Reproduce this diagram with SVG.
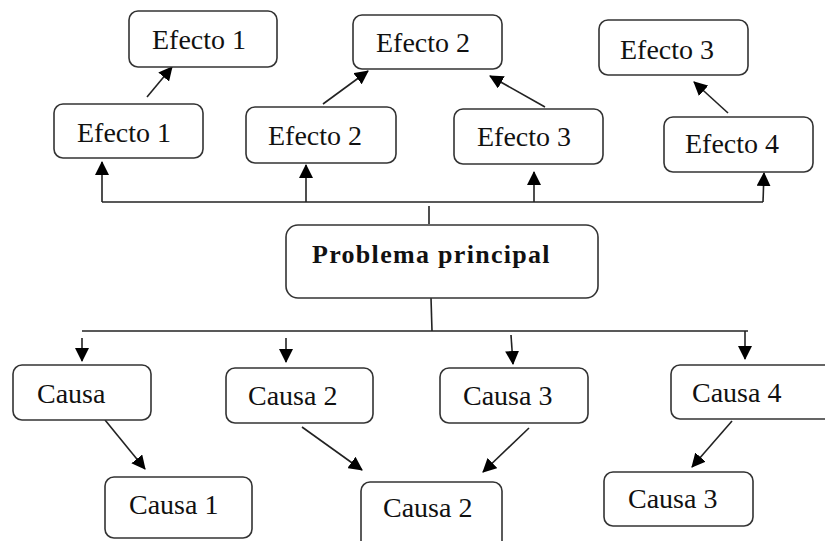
<svg xmlns="http://www.w3.org/2000/svg" width="825" height="541" viewBox="0 0 825 541">
<style>
.box{fill:#fff;stroke:#333;stroke-width:1.6}
.t{font-family:"Liberation Serif","Times New Roman",serif;font-size:28px;fill:#111}
.tb{font-family:"Liberation Serif","Times New Roman",serif;font-size:26px;font-weight:bold;letter-spacing:1.3px;fill:#111}
.c{fill:none;stroke:#222;stroke-width:1.6}
</style>
<defs>
<marker id="ah" markerUnits="userSpaceOnUse" markerWidth="14" markerHeight="14" viewBox="0 0 14 14" refX="13" refY="7" orient="auto">
<path d="M0,0 L14,7 L0,14 z" fill="#000"/>
</marker>
</defs>
<rect width="825" height="541" fill="#fff"/>
<g id="connectors">
<path class="c" d="M102,202 H763"/>
<path class="c" d="M102,202 V162" marker-end="url(#ah)"/>
<path class="c" d="M306,202 V165" marker-end="url(#ah)"/>
<path class="c" d="M534,202 V172" marker-end="url(#ah)"/>
<path class="c" d="M763,202 L764,173" marker-end="url(#ah)"/>
<path class="c" d="M429,206 V224"/>
<path class="c" d="M147,97 L172,67" marker-end="url(#ah)"/>
<path class="c" d="M323,104 L368,71" marker-end="url(#ah)"/>
<path class="c" d="M545,107 L490,76" marker-end="url(#ah)"/>
<path class="c" d="M728,113 L694,82" marker-end="url(#ah)"/>
<path class="c" d="M431,298 L432,331"/>
<path class="c" d="M82,331 H748"/>
<path class="c" d="M82,338 V361" marker-end="url(#ah)"/>
<path class="c" d="M286,338 V362" marker-end="url(#ah)"/>
<path class="c" d="M511,335 L513,364" marker-end="url(#ah)"/>
<path class="c" d="M745,331 V359" marker-end="url(#ah)"/>
<path class="c" d="M105,420 L145,469" marker-end="url(#ah)"/>
<path class="c" d="M302,427 L362,470" marker-end="url(#ah)"/>
<path class="c" d="M529,428 L483,472" marker-end="url(#ah)"/>
<path class="c" d="M732,421 L692,467" marker-end="url(#ah)"/>
</g>
<g id="efecto1-top"><rect class="box" x="129" y="11" width="148" height="56" rx="9"/><text class="t" x="152" y="49">Efecto 1</text></g>
<g id="efecto1"><rect class="box" x="54" y="104" width="149" height="54" rx="9"/><text class="t" x="77" y="142">Efecto 1</text></g>
<g id="efecto2"><rect class="box" x="246" y="107" width="150" height="56" rx="9"/><text class="t" x="268" y="145">Efecto 2</text></g>
<g id="efecto2-top"><rect class="box" x="353" y="15" width="149" height="54" rx="9"/><text class="t" x="376" y="52">Efecto 2</text></g>
<g id="efecto3"><rect class="box" x="454" y="109" width="149" height="55" rx="9"/><text class="t" x="477" y="146">Efecto 3</text></g>
<g id="efecto3-top"><rect class="box" x="599" y="20" width="149" height="55" rx="9"/><text class="t" x="620" y="59">Efecto 3</text></g>
<g id="efecto4"><rect class="box" x="664" y="117" width="149" height="55" rx="9"/><text class="t" x="685" y="153">Efecto 4</text></g>
<g id="problema"><rect class="box" x="286" y="225" width="312" height="73" rx="12"/><text class="tb" x="312" y="263">Problema principal</text></g>
<g id="causa"><rect class="box" x="13" y="365" width="138" height="55" rx="9"/><text class="t" x="37" y="403">Causa</text></g>
<g id="causa2"><rect class="box" x="226" y="368" width="147" height="55" rx="9"/><text class="t" x="248" y="405">Causa 2</text></g>
<g id="causa3"><rect class="box" x="440" y="368" width="148" height="55" rx="9"/><text class="t" x="463" y="405">Causa 3</text></g>
<g id="causa4"><rect class="box" x="671" y="365" width="170" height="54" rx="9"/><text class="t" x="692" y="402">Causa 4</text></g>
<g id="causa1"><rect class="box" x="105" y="477" width="147" height="61" rx="9"/><text class="t" x="129" y="514">Causa 1</text></g>
<g id="causa2-bottom"><rect class="box" x="361" y="482" width="141" height="70" rx="9"/><text class="t" x="383" y="517">Causa 2</text></g>
<g id="causa3-bottom"><rect class="box" x="604" y="472" width="149" height="54" rx="9"/><text class="t" x="628" y="508">Causa 3</text></g>
</svg>
